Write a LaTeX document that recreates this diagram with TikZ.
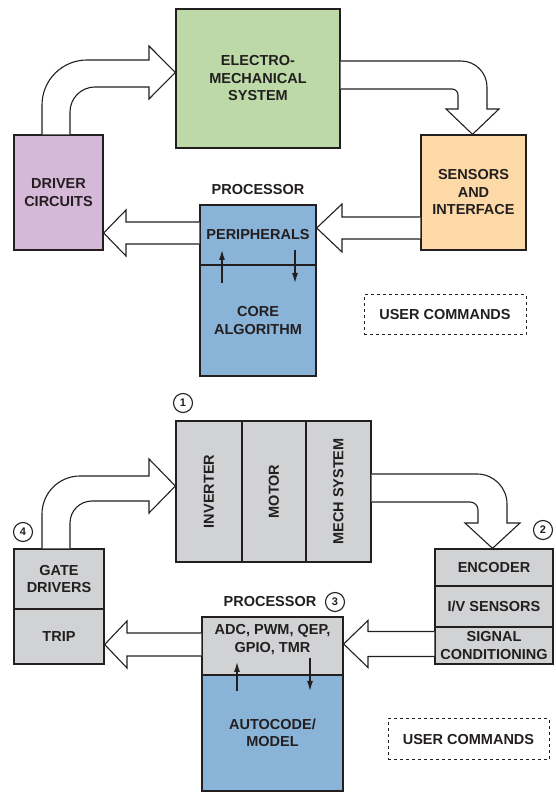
\documentclass[tikz,border=0pt]{standalone}
\usepackage{fontspec}
\setmainfont{Liberation Sans}
\usepackage{tikz}
\usetikzlibrary{arrows.meta}

\definecolor{inkgray}{HTML}{231F20}
\definecolor{emgreen}{HTML}{BCD9A7}
\definecolor{drvpurple}{HTML}{D6B9D8}
\definecolor{senorange}{HTML}{FDD9A8}
\definecolor{procblue}{HTML}{8AB4D7}
\definecolor{hwgray}{HTML}{D1D2D4}

\begin{document}
\begin{tikzpicture}[x=1bp, y=1bp,
    every node/.style={text=inkgray, font=\fontsize{14.5bp}{17.5bp}\selectfont\bfseries, align=center},
    blk/.style={draw=inkgray, line width=1.3bp, inner sep=0pt},
    bigarrow/.style={draw=inkgray, fill=white, line width=1.1bp, line join=miter},
    sigarrow/.style={draw=inkgray, line width=1.2bp, -{Latex[length=10bp,width=6bp]}},
    usrbox/.style={draw=inkgray, dashed, line width=1bp, dash pattern=on 3bp off 3bp, inner sep=0pt},
    numcirc/.style={circle, draw=inkgray, line width=1.1bp, minimum size=19bp, inner sep=0pt, font=\fontsize{11bp}{11bp}\selectfont\bfseries}]
    \useasboundingbox (0,0) rectangle (556,792);
    % Top loop: blocks
    \node[blk, fill=emgreen, minimum width=164bp, minimum height=139bp] (emsys) at (258,713.5) {ELECTRO-\\MECHANICAL\\SYSTEM};
    \node[blk, fill=drvpurple, minimum width=89bp, minimum height=115bp] (driver) at (58.5,599.5) {DRIVER\\CIRCUITS};
    \node[blk, fill=senorange, minimum width=105bp, minimum height=115bp] (sensors) at (473.5,599.5) {SENSORS\\AND\\INTERFACE};
    \node[blk, fill=procblue, minimum width=116bp, minimum height=60bp] (periph) at (258,557) {PERIPHERALS};
    \node[blk, fill=procblue, minimum width=116bp, minimum height=111bp] (core) at (258,471.5) {CORE\\ALGORITHM};
    \node (proc) at (258,602) {PROCESSOR};
    \node[usrbox, minimum width=162bp, minimum height=40bp] (usercmd) at (445,477) {USER COMMANDS};
    % Top loop: block arrows
    \draw[bigarrow] (42,0 |- driver.north) -- (42,687) arc[start angle=180, end angle=90, radius=45]
        -- (149,732) -- (149,746) -- (emsys.west |- 0,719.5) -- (149,693) -- (149,705)
        -- (95,705) arc[start angle=90, end angle=180, radius=25] -- (70,0 |- driver.north);
    \draw[bigarrow] (emsys.east |- 0,731) -- (461,731) arc[start angle=90, end angle=0, radius=26]
        -- (487,683) -- (499,683) -- (472.5,0 |- sensors.north) -- (446,683) -- (458,683)
        -- (458,697) arc[start angle=0, end angle=90, radius=6] -- (emsys.east |- 0,703);
    \draw[bigarrow] (periph.west |- 0,570) -- (126,570) -- (126,582) -- (driver.east |- 0,559)
        -- (126,536) -- (126,548) -- (periph.west |- 0,548);
    \draw[bigarrow] (sensors.west |- 0,575) -- (342,575) -- (342,588) -- (periph.east |- 0,564)
        -- (342,540) -- (342,553) -- (sensors.west |- 0,553);
    \draw[sigarrow] (222,509) -- (222,542);
    \draw[sigarrow] (295,542) -- (295,509);

    % Bottom loop: blocks
    \node[blk, fill=hwgray, minimum width=66bp, minimum height=141bp] (inverter) at (209,300.5) {\rotatebox{90}{INVERTER}};
    \node[blk, fill=hwgray, minimum width=64bp, minimum height=141bp] (motor) at (274,300.5) {\rotatebox{90}{MOTOR}};
    \node[blk, fill=hwgray, minimum width=65bp, minimum height=141bp] (mech) at (338.5,300.5) {\rotatebox{90}{MECH SYSTEM}};
    \node[blk, fill=hwgray, minimum width=90bp, minimum height=60bp] (gate) at (59,213) {GATE\\DRIVERS};
    \node[blk, fill=hwgray, minimum width=90bp, minimum height=55bp] (trip) at (59,155.5) {TRIP};
    \node[blk, fill=hwgray, minimum width=118bp, minimum height=37bp] (encoder) at (494,224.5) {ENCODER};
    \node[blk, fill=hwgray, minimum width=118bp, minimum height=41bp] (ivsens) at (494,185.5) {I/V SENSORS};
    \node[blk, fill=hwgray, minimum width=118bp, minimum height=37bp] (sigcond) at (494,146.5) {SIGNAL\\CONDITIONING};
    \node[blk, fill=hwgray, minimum width=141bp, minimum height=58bp, text depth=15bp] (periphb) at (272.5,146) {ADC, PWM, QEP,\\GPIO, TMR};
    \node[blk, fill=procblue, minimum width=141bp, minimum height=116bp] (model) at (272.5,59) {AUTOCODE/\\MODEL};
    \node (procb) at (270,190) {PROCESSOR};
    \node[usrbox, minimum width=161bp, minimum height=41bp] (usercmdb) at (468.5,52.5) {USER COMMANDS};
    \node[numcirc] (n1) at (183,389) {1};
    \node[numcirc] (n2) at (543,262) {2};
    \node[numcirc] (n3) at (335,190) {3};
    \node[numcirc] (n4) at (23,260) {4};
    % Bottom loop: block arrows
    \draw[bigarrow] (42,0 |- gate.north) -- (42,278) arc[start angle=180, end angle=90, radius=38]
        -- (149,316) -- (149,333) -- (inverter.west |- 0,306) -- (149,279) -- (149,291)
        -- (92,291) arc[start angle=90, end angle=180, radius=22] -- (70,0 |- gate.north);
    \draw[bigarrow] (mech.east |- 0,318) -- (477,318) arc[start angle=90, end angle=0, radius=30]
        -- (507,269) -- (520,269) -- (492.5,0 |- encoder.north) -- (465,269) -- (478,269)
        -- (478,282) arc[start angle=0, end angle=90, radius=8] -- (mech.east |- 0,290);
    \draw[bigarrow] (periphb.west |- 0,159) -- (127,159) -- (127,171) -- (trip.east |- 0,147.5)
        -- (127,124) -- (127,136) -- (periphb.west |- 0,136);
    \draw[bigarrow] (sigcond.west |- 0,160.5) -- (368,160.5) -- (368,171.5) -- (periphb.east |- 0,148)
        -- (368,124.5) -- (368,135.5) -- (sigcond.west |- 0,135.5);
    \draw[sigarrow] (237,101) -- (237,130);
    \draw[sigarrow] (310,134) -- (310,101);
\end{tikzpicture}
\end{document}
